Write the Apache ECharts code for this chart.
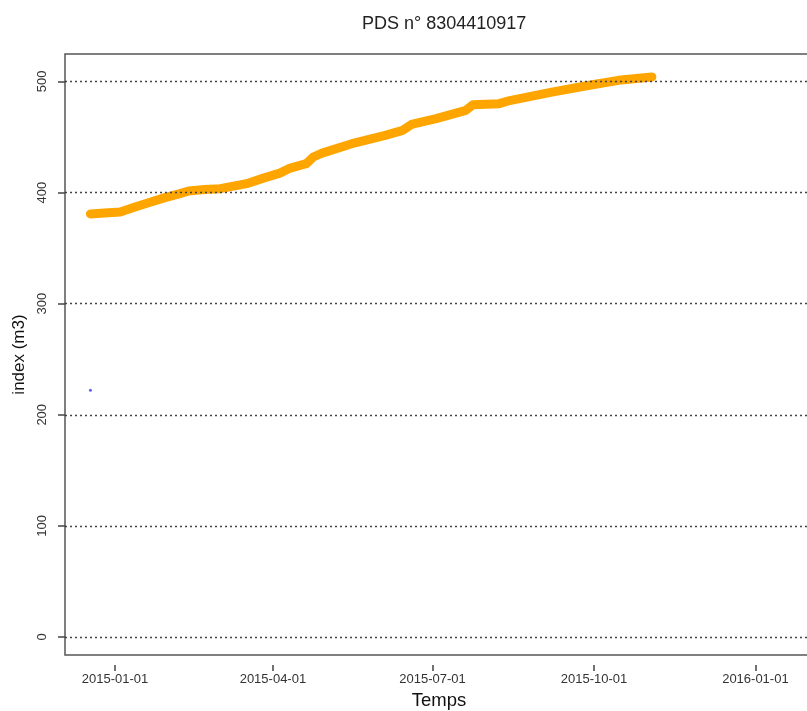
<!DOCTYPE html>
<html>
<head>
<meta charset="utf-8">
<script src="https://cdn.jsdelivr.net/npm/echarts@6/dist/echarts.min.js"></script>
<style>
  html, body { margin: 0; padding: 0; background: #fff; }
  #main { width: 807px; height: 711px; }
</style>
</head>
<body>
<div id="main"></div>
<script>
// index relevé (m3)
var dates = ['2014-12-18', '2014-12-26', '2015-01-04', '2015-01-12', '2015-01-21', '2015-01-29',
  '2015-02-07', '2015-02-12', '2015-02-21', '2015-03-02', '2015-03-17', '2015-03-27',
  '2015-04-05', '2015-04-10', '2015-04-20', '2015-04-24', '2015-04-29', '2015-05-16',
  '2015-06-04', '2015-06-14', '2015-06-19', '2015-07-03', '2015-07-20', '2015-07-24',
  '2015-08-08', '2015-08-14', '2015-09-07', '2015-09-30', '2015-10-15', '2015-11-03'];
var index = [380.8, 381.7, 382.5, 386.7, 391.2, 395.2,
  399, 401.4, 402.7, 403.5, 408, 413.2,
  417.5, 421.5, 426, 432, 435.5, 444,
  451.4, 456, 461.3, 466.5, 474, 479,
  480, 482.8, 490.4, 497, 501, 504];

// point isolé en bleu
var outlierDates = ['2014-12-18'];
var outlierValues = [222];

var yTicks = [0, 100, 200, 300, 400, 500];
var xTicks = ['2015-01-01', '2015-04-01', '2015-07-01', '2015-10-01', '2016-01-01'];

function ts(s) {
  var p = s.split('-');
  return new Date(+p[0], +p[1] - 1, +p[2]).getTime();
}

var lineData = [];
for (var i = 0; i < dates.length; i++) {
  lineData.push([dates[i], index[i]]);
}
var outlierData = [];
for (var j = 0; j < outlierDates.length; j++) {
  outlierData.push([outlierDates[j], outlierValues[j]]);
}
var xTickValues = xTicks.map(ts);
var gridLines = yTicks.map(function (v) { return { yAxis: v }; });

var myChart = echarts.init(document.getElementById('main'));

var option = {
  animation: false,
  backgroundColor: '#fff',
  title: {
    text: 'PDS n° 8304410917',
    left: 357,
    top: 10,
    textStyle: { fontFamily: 'Liberation Sans', fontSize: 18, fontWeight: 'normal', color: '#222' }
  },
  grid: {
    left: 65, top: 54, right: -6, bottom: 56,
    outerBoundsMode: 'none',
    show: true, borderColor: '#555', borderWidth: 1.5, backgroundColor: 'transparent'
  },
  xAxis: {
    type: 'time',
    min: new Date(2014, 11, 3, 12).getTime(),
    max: new Date(2016, 1, 2, 20).getTime(),
    offset: 10,
    name: 'Temps',
    nameLocation: 'middle',
    nameGap: 26,
    nameTextStyle: { fontFamily: 'Liberation Sans', fontSize: 18.5, color: '#111' },
    axisLine: { show: false, onZero: false },
    axisTick: { show: true, inside: false, length: 6, customValues: xTickValues, lineStyle: { color: '#444', width: 1.5 } },
    axisLabel: {
      customValues: xTickValues,
      margin: 8,
      fontFamily: 'Liberation Sans', fontSize: 13, color: '#333',
      formatter: '{yyyy}-{MM}-{dd}'
    },
    splitLine: { show: false }
  },
  yAxis: {
    type: 'value',
    min: -16.2,
    max: 524.7,
    name: 'index (m3)',
    nameLocation: 'middle',
    nameGap: 36,
    nameTextStyle: { fontFamily: 'Liberation Sans', fontSize: 17, color: '#111' },
    axisLine: { show: false, onZero: false },
    axisTick: { show: true, length: 7, customValues: yTicks, lineStyle: { color: '#444', width: 1.5 } },
    axisLabel: {
      customValues: yTicks,
      rotate: 90,
      margin: 16,
      fontFamily: 'Liberation Sans', fontSize: 13, color: '#333'
    },
    splitLine: { show: false }
  },
  series: [
    {
      type: 'line',
      data: lineData,
      showSymbol: false,
      lineStyle: { color: '#FFA500', width: 9, cap: 'round', join: 'round' },
      z: 3,
      markLine: {
        silent: true,
        symbol: 'none',
        label: { show: false },
        lineStyle: { color: '#444', width: 1.3, type: [2, 3] },
        data: gridLines
      }
    },
    {
      type: 'scatter',
      data: outlierData,
      symbolSize: 3,
      itemStyle: { color: '#3838ff' }
    }
  ]
};

myChart.setOption(option);
</script>
</body>
</html>
